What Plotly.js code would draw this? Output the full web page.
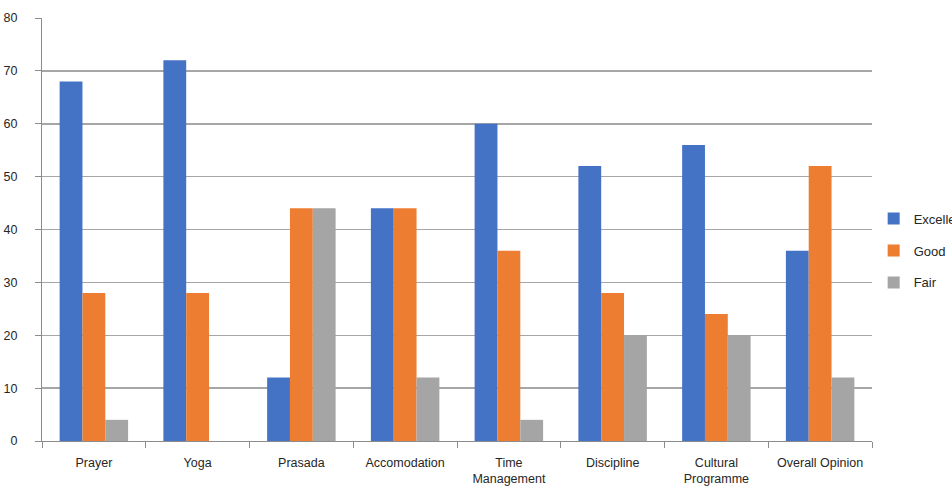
<!DOCTYPE html>
<html>
<head>
<meta charset="utf-8">
<script src="https://cdn.plot.ly/plotly-3.0.1.min.js"></script>
<style>html,body{margin:0;padding:0;background:#fff;}#chart{width:952px;height:493px;}</style>
</head>
<body>
<div id="chart"></div>
<script>
const categories = ["Prayer", "Yoga", "Prasada", "Accomodation", "Time<br>Management", "Discipline", "Cultural<br>Programme", "Overall Opinion"];
const excellent = [68, 72, 12, 44, 60, 52, 56, 36];
const good = [28, 28, 44, 44, 36, 28, 24, 52];
const fair = [4, 0, 44, 12, 4, 20, 20, 12];
const seriesNames = ["Excellent", "Good", "Fair"];
const yTicks = [0, 10, 20, 30, 40, 50, 60, 70, 80];

const colors = ["#4472C4", "#ED7D31", "#A5A5A5"];
const values = [excellent, good, fair];
const traces = values.map((v, i) => ({
  type: "bar",
  x: categories,
  y: v,
  name: seriesNames[i],
  legendgroup: "g" + i,
  marker: {color: colors[i]},
  hoverinfo: "x+y+name"
}));

const layout = {
  width: 952, height: 493,
  margin: {l: 42, r: 80, t: 18, b: 52, autoexpand: false},
  paper_bgcolor: "#fff", plot_bgcolor: "#fff",
  barmode: "group",
  bargap: 0.34,
  bargroupgap: 0,
  font: {family: "Liberation Sans, Arial, sans-serif", size: 12, color: "#262626"},
  xaxis: {
    type: "category",
    showgrid: false,
    showline: true, linecolor: "#8c8c8c", linewidth: 1,
    ticks: "outside", tickson: "boundaries", ticklen: 6, tickcolor: "#8c8c8c",
    ticklabelstandoff: 10,
    tickfont: {size: 12.5, color: "#262626"},
    automargin: false,
    fixedrange: true
  },
  yaxis: {
    range: [0, 80],
    tickvals: yTicks,
    showgrid: true, gridcolor: "#a6a6a6", gridwidth: 1.5,
    showline: true, linecolor: "#8c8c8c", linewidth: 1,
    ticks: "outside", ticklen: 6, tickcolor: "#8c8c8c",
    ticklabelstandoff: 15,
    tickfont: {size: 12.5, color: "#262626"},
    zeroline: false,
    automargin: false,
    fixedrange: true
  },
  showlegend: true,
  legend: {
    xref: "paper",
    x: 1.002, xanchor: "left",
    y: 0.45, yanchor: "middle",
    font: {size: 13, color: "#262626"},
    tracegroupgap: 12,
    traceorder: "grouped",
    itemwidth: 30,
    bgcolor: "rgba(0,0,0,0)"
  }
};

Plotly.newPlot("chart", traces, layout, {displayModeBar: false, staticPlot: true});
</script>
</body>
</html>
